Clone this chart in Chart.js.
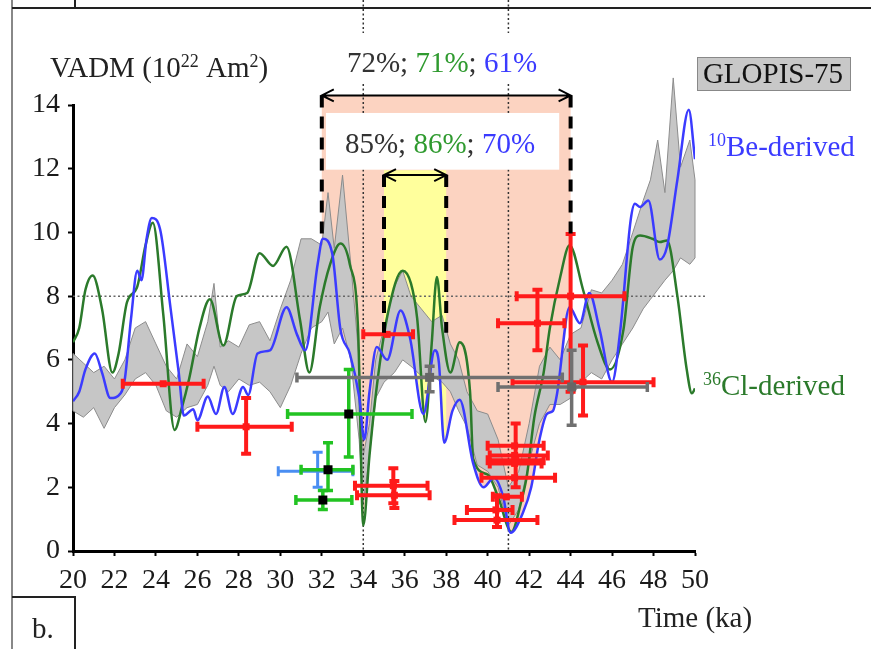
<!DOCTYPE html>
<html>
<head>
<meta charset="utf-8">
<script src="https://cdn.jsdelivr.net/npm/chart.js@4.4.1/dist/chart.umd.min.js"></script>
<style>
  html, body { margin: 0; padding: 0; background: #fff; }
  #wrap { width: 871px; height: 649px; }
</style>
</head>
<body>
<div id="wrap"><canvas id="vadmChart" width="871" height="649"></canvas></div>
<script>
// axis ticks
const timeTicks = [20, 22, 24, 26, 28, 30, 32, 34, 36, 38, 40, 42, 44, 46, 48, 50];
const vadmTicks = [0, 2, 4, 6, 8, 10, 12, 14];

// 10Be-derived VADM
const beTime = [20.0, 20.3, 20.6, 21.05, 21.4, 21.8, 22.3, 22.5, 22.8, 23.1, 23.3, 23.55, 23.8, 24.2, 24.7, 25.1, 25.35, 25.8, 26.0, 26.5, 26.9, 27.3, 27.7, 28.2, 28.45, 28.9, 29.5, 30.3, 30.8, 31.2, 31.8, 32.05, 32.5, 32.9, 33.35, 33.8, 34.05, 34.3, 34.65, 35.15, 35.8, 36.25, 36.9, 37.45, 37.65, 37.9, 38.3, 38.65, 39.3, 39.8, 40.3, 40.75, 41.1, 41.7, 42.1, 42.5, 42.85, 43.15, 43.35, 43.95, 44.45, 44.9, 45.4, 46.0, 46.4, 46.9, 47.1, 47.35, 47.75, 48.3, 48.65, 49.15, 49.7, 50.0];
const beVadm = [4.7, 5.0, 5.7, 6.2, 5.6, 4.8, 4.95, 5.4, 7.3, 8.8, 8.5, 9.8, 10.45, 10.1, 7.65, 5.6, 4.25, 4.45, 4.1, 4.85, 4.3, 5.15, 4.3, 5.15, 4.9, 6.2, 6.3, 7.65, 6.8, 6.3, 9.0, 9.8, 9.35, 6.95, 6.2, 4.85, 3.5, 5.0, 6.4, 6.0, 7.55, 6.7, 4.3, 6.3, 5.9, 3.4, 4.4, 4.75, 2.75, 2.0, 2.3, 1.7, 0.57, 1.2, 2.0, 3.5, 4.3, 4.4, 4.95, 7.65, 7.15, 8.1, 6.95, 5.3, 6.95, 10.4, 10.9, 10.8, 11.0, 9.15, 9.55, 11.65, 13.85, 12.3];

// 36Cl-derived VADM
const clTime = [20.0, 20.3, 20.6, 20.95, 21.4, 21.9, 22.2, 22.6, 23.1, 23.5, 23.85, 24.35, 24.9, 25.25, 25.6, 26.1, 26.6, 27.25, 27.9, 28.4, 29.0, 29.65, 30.3, 30.95, 31.4, 31.9, 32.4, 32.9, 33.35, 33.75, 34.0, 34.3, 34.65, 35.2, 35.9, 36.3, 36.6, 37.0, 37.3, 37.55, 37.8, 38.2, 38.65, 39.15, 39.3, 40.0, 40.5, 41.15, 41.6, 41.9, 42.25, 42.7, 43.0, 43.5, 43.95, 44.6, 45.3, 45.9, 46.55, 47.0, 47.35, 47.95, 48.3, 48.65, 49.15, 49.6, 49.85, 50.0];
const clVadm = [6.55, 7.0, 8.2, 8.65, 7.6, 5.6, 6.2, 7.8, 8.3, 9.6, 10.3, 7.45, 3.8, 4.5, 5.4, 7.0, 7.9, 6.45, 8.0, 8.1, 9.35, 8.95, 9.55, 7.25, 5.6, 7.65, 9.0, 9.65, 9.0, 6.95, 0.8, 3.0, 5.15, 7.5, 8.8, 8.4, 7.3, 4.05, 6.5, 8.6, 7.0, 5.6, 6.55, 5.0, 2.9, 2.4, 1.7, 0.6, 1.5, 2.4, 4.2, 5.6, 7.0, 8.6, 9.6, 8.2, 6.55, 5.7, 6.95, 9.55, 9.9, 9.8, 9.7, 9.75, 8.0, 5.7, 4.95, 5.1];

// GLOPIS-75 envelope
const glopisTime = [20.0, 20.5, 21.0, 21.5, 22.0, 22.5, 23.0, 23.5, 24.0, 24.5, 25.0, 25.5, 26.0, 26.5, 26.8, 27.1, 27.5, 28.0, 28.5, 29.0, 29.5, 30.0, 30.5, 31.0, 31.5, 32.0, 32.3, 32.6, 33.0, 33.4, 33.8, 34.0, 34.3, 34.6, 35.0, 35.5, 35.9, 36.3, 36.8, 37.3, 37.8, 38.2, 38.6, 39.0, 39.5, 40.0, 40.5, 41.0, 41.5, 42.0, 42.5, 43.0, 43.5, 44.0, 44.5, 45.0, 45.5, 46.0, 46.5, 47.0, 47.5, 47.85, 48.2, 48.55, 48.95, 49.3, 49.75, 50.0];
const glopisHigh = [6.2, 5.9, 5.6, 5.8, 5.4, 6.0, 7.0, 7.2, 6.5, 5.8, 5.4, 6.5, 6.1, 7.2, 8.4, 6.4, 6.6, 6.4, 7.1, 7.2, 6.6, 7.6, 8.5, 9.8, 9.8, 9.6, 11.25, 9.5, 11.8, 9.0, 6.0, 3.0, 4.0, 6.0, 7.0, 8.3, 8.8, 8.0, 7.6, 7.2, 7.4, 6.5, 6.0, 5.0, 4.4, 4.3, 3.5, 2.0, 2.5, 4.0, 5.8, 6.4, 6.0, 6.8, 7.0, 8.2, 8.1, 8.5, 9.0, 10.0, 11.0, 11.65, 12.9, 11.25, 14.85, 12.05, 12.9, 11.65];
const glopisLow = [4.4, 4.2, 4.5, 3.85, 4.5, 4.9, 5.4, 5.6, 5.2, 4.4, 4.2, 4.5, 4.6, 5.2, 5.8, 5.2, 5.0, 5.4, 5.2, 5.3, 5.0, 4.5, 5.2, 6.2, 7.0, 7.2, 7.5, 6.5, 7.0, 6.0, 3.5, 1.5, 3.0, 4.8, 5.3, 5.6, 6.0, 5.8, 5.5, 5.5, 5.3, 5.0, 4.4, 3.9, 2.7, 2.5, 2.0, 0.8, 1.3, 2.8, 4.0, 4.6, 4.6, 4.8, 5.3, 5.6, 5.4, 6.0, 6.5, 7.0, 7.6, 7.9, 8.2, 8.5, 8.8, 9.2, 9.0, 9.2];

// dated VADM points with uncertainties (red)
const redAge      = [24.35, 28.35, 35.15, 35.45, 35.5, 42.4, 44.0, 44.6, 41.3, 41.3, 41.35, 41.3, 41.3, 40.9, 40.4, 40.45];
const redVadm     = [5.25, 3.9, 6.8, 2.05, 1.75, 7.15, 8.0, 5.3, 3.3, 3.0, 2.85, 2.75, 2.3, 1.7, 1.29, 0.97];
const redAgeLow   = [22.4, 26.0, 34.0, 33.6, 33.7, 40.5, 41.4, 41.2, 40.0, 40.1, 40.0, 40.1, 39.7, 40.25, 39.0, 38.4];
const redAgeHigh  = [26.3, 30.55, 36.4, 37.1, 37.2, 43.7, 46.6, 48.0, 42.7, 42.9, 42.7, 42.6, 43.25, 41.65, 41.2, 42.4];
const redVadmLow  = [5.25, 3.05, 6.8, 1.5, 1.35, 6.3, 5.0, 4.25, 3.3, 3.0, 2.0, 2.75, 2.3, 1.7, 1.29, 0.75];
const redVadmHigh = [5.25, 4.8, 6.8, 2.6, 2.2, 8.2, 9.95, 6.45, 3.3, 3.0, 4.0, 2.75, 2.3, 1.7, 1.29, 1.75];

// green points
const greenAge      = [33.3, 32.3, 32.05];
const greenVadm     = [4.3, 2.55, 1.6];
const greenAgeLow   = [30.35, 31.0, 30.75];
const greenAgeHigh  = [36.35, 33.5, 33.45];
const greenVadmLow  = [2.95, 1.9, 1.3];
const greenVadmHigh = [5.7, 3.4, 1.9];

// blue point
const blueAge      = [31.8];
const blueVadm     = [2.5];
const blueAgeLow   = [29.9];
const blueAgeHigh  = [33.5];
const blueVadmLow  = [2.0];
const blueVadmHigh = [3.1];

// grey points
const greyAge      = [37.2, 44.05];
const greyVadm     = [5.45, 5.15];
const greyAgeLow   = [30.8, 40.5];
const greyAgeHigh  = [43.6, 47.7];
const greyVadmLow  = [5.0, 3.95];
const greyVadmHigh = [5.8, 6.3];

// excursion intervals and labels
const wideInterval = [32, 44];
const narrowInterval = [35, 38];
const wideShares = ['72%', '71%', '61%'];
const narrowShares = ['85%', '86%', '70%'];
const excursionAges = [34, 41];
const referenceVadm = 8;

const SERIF = '"Liberation Serif", "Times New Roman", serif';
const BLUE = '#3b3bff';
const GREEN = '#2b7a2b';
const TEXT_GREEN = '#2f9a2f';
const TEXT_GREY = '#333333';
const LABEL_SIZE = 29;

function interp(xs, ys, x) {
    if (x <= xs[0]) return ys[0];
    for (let i = 1; i < xs.length; i++) {
        if (x <= xs[i]) {
            const t = (x - xs[i - 1]) / (xs[i] - xs[i - 1]);
            return ys[i - 1] + t * (ys[i] - ys[i - 1]);
        }
    }
    return ys[ys.length - 1];
}
function lowerEnvelope(t) {
    return Math.min(interp(beTime, beVadm, t), interp(clTime, clVadm, t));
}

function richText(c, parts, x, y, size, align) {
    let w = 0;
    parts.forEach(p => {
        c.font = (p[2] ? size * 0.62 : size) + 'px ' + SERIF;
        w += c.measureText(p[0]).width;
    });
    let cx = align === 'center' ? x - w / 2 : x;
    c.textAlign = 'left';
    c.textBaseline = 'alphabetic';
    parts.forEach(p => {
        const s = p[2] ? size * 0.62 : size;
        c.font = s + 'px ' + SERIF;
        c.fillStyle = p[1];
        c.fillText(p[0], cx, p[2] ? y - size * 0.36 : y);
        cx += c.measureText(p[0]).width;
    });
}

// shaded intervals, GLOPIS band, dotted guides
const backdrop = {
    id: 'backdrop',
    beforeDatasetsDraw(chart) {
        const c = chart.ctx, X = v => chart.scales.x.getPixelForValue(v), Y = v => chart.scales.y.getPixelForValue(v);
        c.save();

        function shade(from, to, top, color) {
            c.beginPath();
            c.moveTo(X(from), Y(top));
            c.lineTo(X(to), Y(top));
            for (let t = to; t >= from; t -= 0.02) c.lineTo(X(t), Y(lowerEnvelope(t)));
            c.lineTo(X(from), Y(lowerEnvelope(from)));
            c.closePath();
            c.fillStyle = color;
            c.fill();
        }
        shade(wideInterval[0], wideInterval[1], 14.3, '#fcd3c1');
        shade(narrowInterval[0], narrowInterval[1], 11.95, '#ffff9c');

        // GLOPIS-75 band
        c.beginPath();
        glopisTime.forEach((t, i) => i ? c.lineTo(X(t), Y(glopisHigh[i])) : c.moveTo(X(t), Y(glopisHigh[i])));
        for (let i = glopisTime.length - 1; i >= 0; i--) c.lineTo(X(glopisTime[i]), Y(glopisLow[i]));
        c.closePath();
        c.fillStyle = '#c6c6c6';
        c.fill();
        c.strokeStyle = '#8c8c8c';
        c.lineWidth = 1;
        c.stroke();

        // dotted guides
        c.setLineDash([2, 2.5]);
        c.lineWidth = 1.5;
        c.strokeStyle = '#666';
        c.beginPath();
        c.moveTo(X(20), Y(referenceVadm));
        c.lineTo(X(50.6), Y(referenceVadm));
        c.stroke();
        c.strokeStyle = '#333';
        excursionAges.forEach(a => {
            c.beginPath();
            c.moveTo(X(a), 0); c.lineTo(X(a), 33);
            c.moveTo(X(a), 84); c.lineTo(X(a), Y(0));
            c.stroke();
        });
        c.setLineDash([]);

        // white label box
        c.fillStyle = '#fff';
        c.fillRect(X(32.2), Y(13.75), X(43.45) - X(32.2), Y(11.97) - Y(13.75));
        c.restore();
    }
};

function drawCrosses(c, X, Y, ages, vadm, aLo, aHi, vLo, vHi, color, lw, marker, markerColor) {
    c.strokeStyle = color;
    c.lineWidth = lw;
    c.lineCap = 'butt';
    const cap = 5;
    ages.forEach((a, i) => {
        const x = X(a), y = Y(vadm[i]);
        c.beginPath();
        c.moveTo(X(aLo[i]), y); c.lineTo(X(aHi[i]), y);
        c.moveTo(X(aLo[i]), y - cap); c.lineTo(X(aLo[i]), y + cap);
        c.moveTo(X(aHi[i]), y - cap); c.lineTo(X(aHi[i]), y + cap);
        if (vHi[i] > vLo[i]) {
            c.moveTo(x, Y(vLo[i])); c.lineTo(x, Y(vHi[i]));
            c.moveTo(x - cap, Y(vLo[i])); c.lineTo(x + cap, Y(vLo[i]));
            c.moveTo(x - cap, Y(vHi[i])); c.lineTo(x + cap, Y(vHi[i]));
        }
        c.stroke();
        if (marker) {
            c.fillStyle = markerColor;
            c.fillRect(x - marker / 2, y - marker / 2, marker, marker);
        }
    });
}

function arrow(c, x1, x2, y) {
    c.strokeStyle = '#000';
    c.lineWidth = 2;
    c.beginPath();
    c.moveTo(x1, y); c.lineTo(x2, y);
    c.moveTo(x1 + 12, y - 6); c.lineTo(x1, y); c.lineTo(x1 + 12, y + 6);
    c.moveTo(x2 - 12, y - 6); c.lineTo(x2, y); c.lineTo(x2 - 12, y + 6);
    c.stroke();
}

// error bars, interval markers, labels and frame
const overlay = {
    id: 'overlay',
    afterDraw(chart) {
        const c = chart.ctx, X = v => chart.scales.x.getPixelForValue(v), Y = v => chart.scales.y.getPixelForValue(v);
        c.save();
        drawCrosses(c, X, Y, blueAge, blueVadm, blueAgeLow, blueAgeHigh, blueVadmLow, blueVadmHigh, '#4a8ef2', 3, 0);
        drawCrosses(c, X, Y, greenAge, greenVadm, greenAgeLow, greenAgeHigh, greenVadmLow, greenVadmHigh, '#22c322', 3.5, 9, '#000');
        drawCrosses(c, X, Y, redAge, redVadm, redAgeLow, redAgeHigh, redVadmLow, redVadmHigh, '#ff1a1a', 4, 7, '#ff1a1a');
        drawCrosses(c, X, Y, greyAge, greyVadm, greyAgeLow, greyAgeHigh, greyVadmLow, greyVadmHigh, '#707070', 3.5, 9, '#666');

        // dashed interval bounds
        c.strokeStyle = '#000';
        c.lineWidth = 4;
        c.setLineDash([12, 9]);
        c.beginPath();
        c.moveTo(X(wideInterval[0]), Y(14.3)); c.lineTo(X(wideInterval[0]), Y(9.85));
        c.moveTo(X(wideInterval[1]), Y(14.3)); c.lineTo(X(wideInterval[1]), Y(9.9));
        c.moveTo(X(narrowInterval[0]), Y(11.8)); c.lineTo(X(narrowInterval[0]), Y(6.85));
        c.moveTo(X(narrowInterval[1]), Y(11.8)); c.lineTo(X(narrowInterval[1]), Y(6.85));
        c.stroke();
        c.setLineDash([]);
        arrow(c, X(wideInterval[0]), X(wideInterval[1]), Y(14.3));
        arrow(c, X(narrowInterval[0]), X(narrowInterval[1]), Y(11.8));

        // interval labels
        richText(c, [[wideShares[0] + '; ', TEXT_GREY], [wideShares[1], TEXT_GREEN], ['; ', TEXT_GREY], [wideShares[2], BLUE]], 442, 72, LABEL_SIZE, 'center');
        richText(c, [[narrowShares[0] + '; ', TEXT_GREY], [narrowShares[1], TEXT_GREEN], ['; ', TEXT_GREY], [narrowShares[2], BLUE]], 440, 153, LABEL_SIZE, 'center');

        // axis titles
        richText(c, [['VADM (10', '#222'], ['22', '#222', true], [' Am', '#222'], ['2', '#222', true], [')', '#222']], 50, 77, LABEL_SIZE);
        richText(c, [['Time (ka)', '#222']], 638, 627, LABEL_SIZE);

        // series labels
        richText(c, [['10', BLUE, true], ['Be-derived', BLUE]], 708, 156, LABEL_SIZE);
        richText(c, [['36', GREEN, true], ['Cl-derived', GREEN]], 703, 395, LABEL_SIZE);

        // GLOPIS-75 key
        c.fillStyle = '#c8c8c8';
        c.fillRect(697, 57, 153, 33);
        c.strokeStyle = '#888';
        c.lineWidth = 1;
        c.strokeRect(697.5, 57.5, 153, 33);
        richText(c, [['GLOPIS-75', '#111']], 773, 83, LABEL_SIZE, 'center');

        // page frame and panel letter
        c.strokeStyle = '#888';
        c.lineWidth = 2;
        c.beginPath();
        c.moveTo(12, 0); c.lineTo(12, 649);
        c.stroke();
        c.strokeStyle = '#222';
        c.beginPath();
        c.moveTo(12, 8); c.lineTo(871, 8);
        c.moveTo(75, 0); c.lineTo(75, 8);
        c.moveTo(12, 597); c.lineTo(75, 597); c.lineTo(75, 649);
        c.stroke();
        richText(c, [['b', '#222'], ['.', '#222']], 32, 638, LABEL_SIZE);
        c.restore();
    }
};

const axisCommon = {
    grid: { drawOnChartArea: false, drawTicks: true, tickLength: 5, tickWidth: 2, tickColor: '#000' },
    border: { display: true, width: 3, color: '#000' },
    ticks: { color: '#1a1a1a', font: { family: SERIF, size: 28 } }
};

const ctx = document.getElementById('vadmChart').getContext('2d');
const toPoints = (xs, ys) => xs.map((x, i) => ({ x: x, y: ys[i] }));

const vadmChart = new Chart(ctx, {
    type: 'line',
    data: {
        datasets: [
            {
                label: '10Be-derived',
                data: toPoints(beTime, beVadm),
                borderColor: BLUE,
                borderWidth: 2.5,
                pointRadius: 0,
                cubicInterpolationMode: 'monotone',
                fill: false
            },
            {
                label: '36Cl-derived',
                data: toPoints(clTime, clVadm),
                borderColor: GREEN,
                borderWidth: 2.5,
                pointRadius: 0,
                cubicInterpolationMode: 'monotone',
                fill: false
            }
        ]
    },
    options: {
        responsive: false,
        animation: false,
        layout: { padding: { left: 0, top: 105, right: 176, bottom: 0 } },
        plugins: {
            legend: { display: false },
            tooltip: { enabled: false }
        },
        scales: {
            x: {
                type: 'linear',
                min: 20,
                max: 50,
                afterBuildTicks: s => { s.ticks = timeTicks.map(v => ({ value: v })); },
                afterFit: s => { s.height = 98; },
                grid: axisCommon.grid,
                border: axisCommon.border,
                ticks: Object.assign({ padding: 8, maxRotation: 0, autoSkip: false }, axisCommon.ticks)
            },
            y: {
                min: 0,
                max: 14,
                afterBuildTicks: s => { s.ticks = vadmTicks.map(v => ({ value: v })); },
                afterFit: s => { s.width = 73; },
                grid: axisCommon.grid,
                border: axisCommon.border,
                ticks: Object.assign({ padding: 8 }, axisCommon.ticks)
            }
        }
    },
    plugins: [backdrop, overlay]
});
</script>
</body>
</html>
